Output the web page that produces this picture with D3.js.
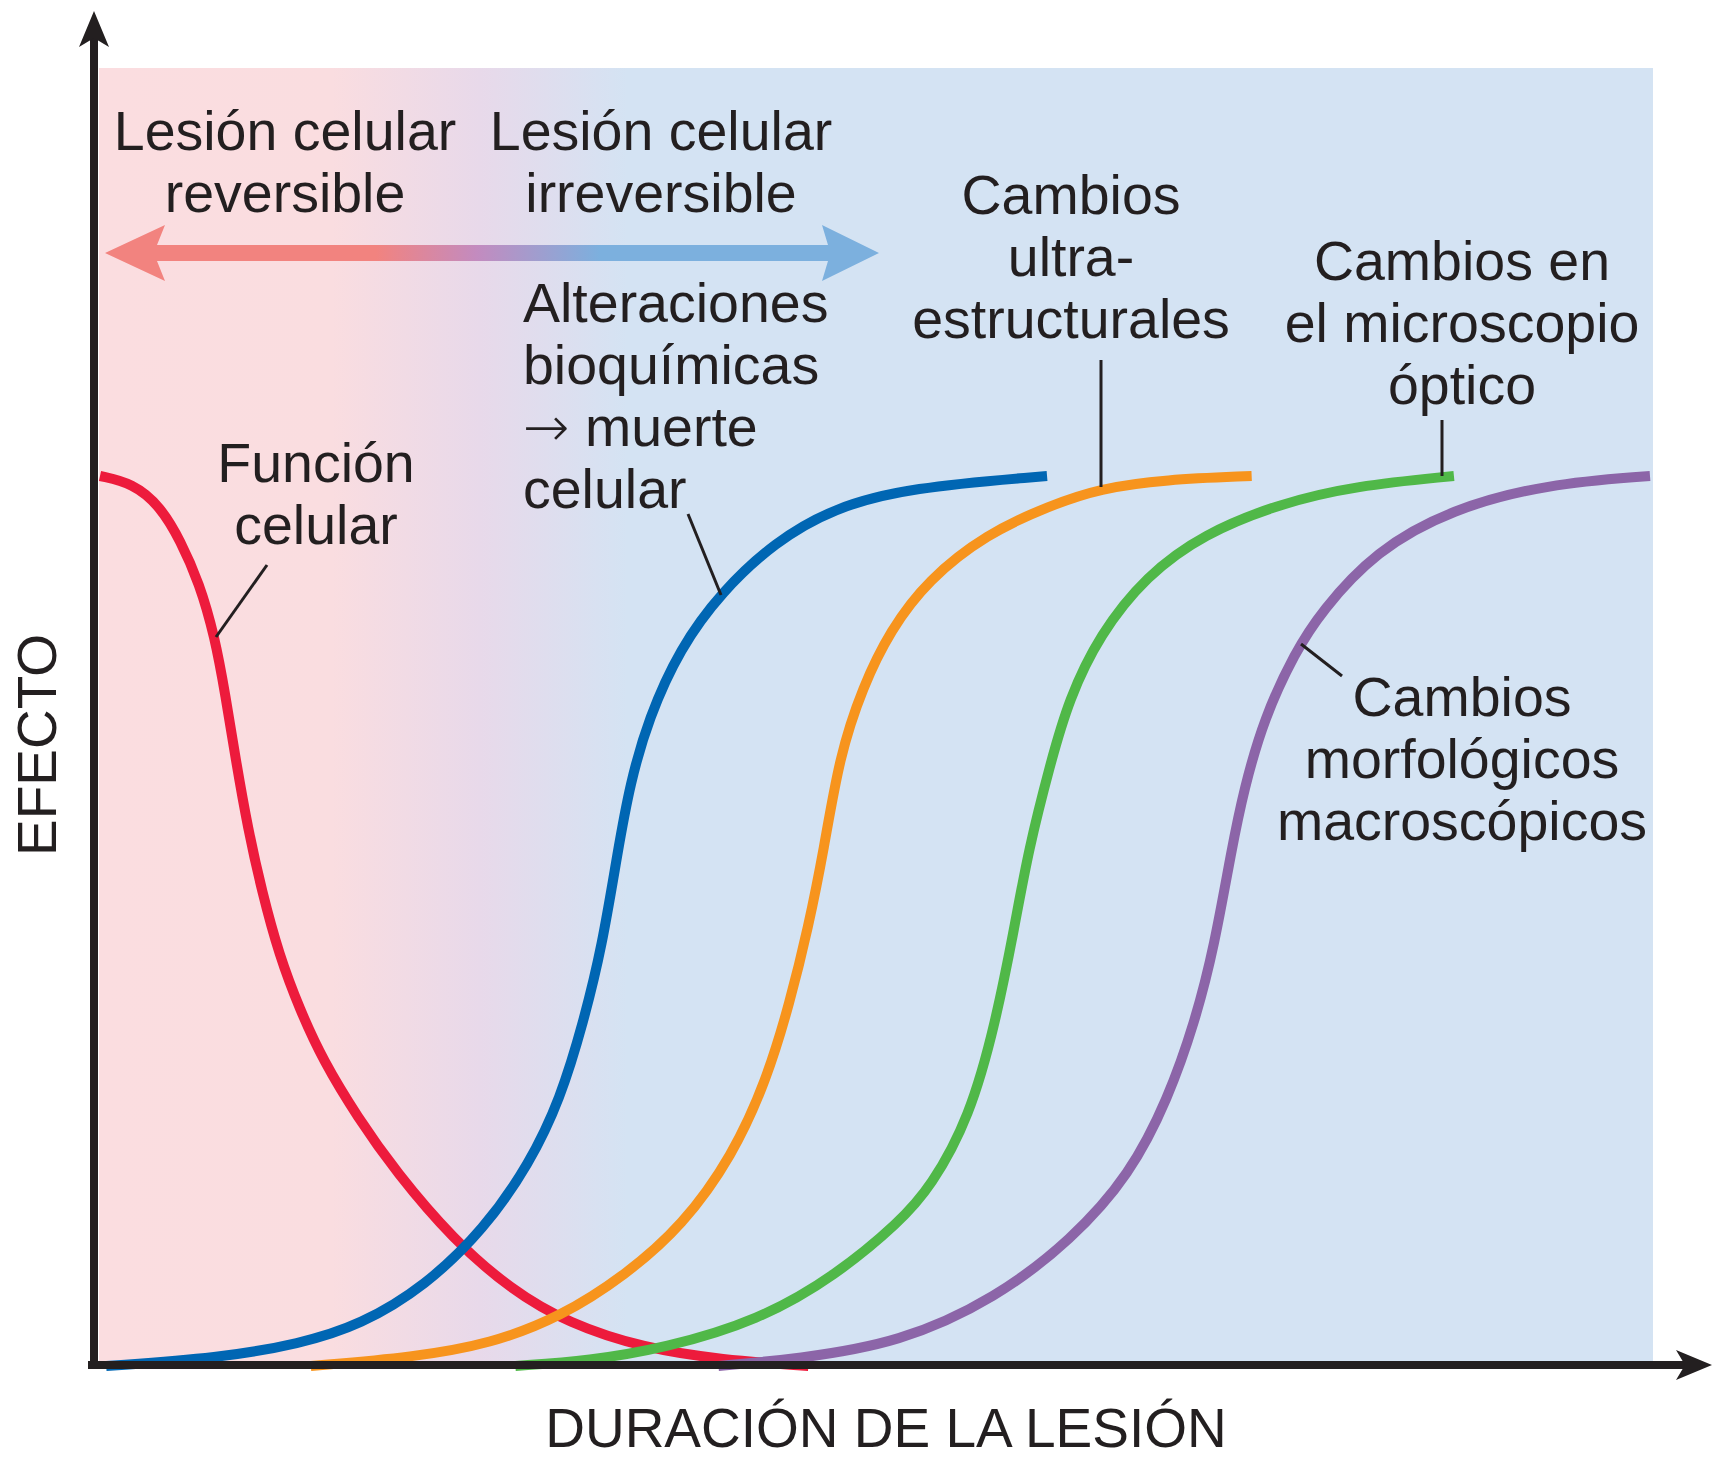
<!DOCTYPE html>
<html>
<head>
<meta charset="utf-8">
<script src="https://cdn.jsdelivr.net/npm/d3@7"></script>
<style>
  html, body { margin: 0; padding: 0; background: #ffffff; }
  svg { display: block; }
  text { font-family: "Liberation Sans", Arial, Helvetica, sans-serif; fill: #231f20; }
</style>
</head>
<body>
<svg id="chart" width="1721" height="1471"></svg>
<script>
// ---------------- DATA (time units 0..100, effect 0..100) ----------------
const seriesNames = ["Función celular", "Alteraciones bioquímicas", "Cambios ultraestructurales",
                     "Cambios en el microscopio óptico", "Cambios morfológicos macroscópicos"];
const seriesColors = ["#ed1b3c", "#0066b3", "#f7941d", "#50b848", "#8c65a8"];

const funcionCelular = [[0,100],[2.1,99.2],[3.9,96.6],[5.2,92.7],[6.4,88.0],[7.4,82.0],[8.1,75.3],
  [8.75,68.2],[9.55,60.3],[10.45,53.3],[11.55,46.2],[12.9,40.0],[14.4,34.3],[16.6,28.0],[19.1,21.8],
  [22.8,14.2],[26.5,8.6],[30.2,4.8],[35.1,2.0],[40.1,0.7],[45.7,0]];

const alteracionesBioquimicas = [[0.4,0],[7.7,0.9],[12.9,2.5],[16.8,4.6],[21.0,9.0],[24.8,15.4],
  [27.7,22.7],[29.7,30.0],[31.2,38.7],[32.4,47.2],[33.4,57.8],[34.2,65.5],[35.4,72.8],[37.4,80.6],
  [40.1,87.0],[43.55,92.6],[47.3,96.4],[52.2,98.7],[61.1,100]];

const cambiosUltraestructurales = [[13.6,0],[20.3,1.0],[25.2,2.5],[29.7,5.5],[33.9,10.2],[37.6,15.8],
  [40.8,23.6],[43.0,32.1],[44.5,40.8],[45.7,49.3],[46.7,58.0],[47.7,68.5],[49.2,76.3],[51.0,82.7],
  [53.4,88.3],[57.2,93.5],[61.3,96.7],[64.5,98.6],[68.7,99.6],[74.3,100]];

const cambiosMicroscopio = [[26.8,0],[31.6,0.6],[36.4,2.0],[42.5,5.1],[47.5,10.2],[51.6,16.2],
  [53.6,20.1],[56.1,27.9],[57.8,38.7],[59.0,49.3],[59.9,58.0],[61.3,67.6],[62.5,74.9],[64.5,82.2],
  [67.5,88.8],[71.2,93.5],[76.1,96.9],[81.0,98.9],[87.35,100]];

const cambiosMacroscopicos = [[39.9,0],[45.0,0.8],[51.6,2.6],[57.8,7.6],[62.7,14.2],[66.45,21.5],
  [68.9,30.0],[70.65,38.7],[71.9,47.2],[73.0,58.0],[73.8,64.8],[75.1,72.8],[77.1,80.2],[78.8,84.8],
  [82.3,91.6],[87.2,96.3],[93.35,99.1],[100,100]];

const allSeries = [funcionCelular, alteracionesBioquimicas, cambiosUltraestructurales,
                   cambiosMicroscopio, cambiosMacroscopicos];

// Text labels
const axisTitleX = "DURACIÓN DE LA LESIÓN";
const axisTitleY = "EFECTO";
const phaseLabels = [["Lesión celular", "reversible"], ["Lesión celular", "irreversible"]];
const curveLabels = [
  ["Función", "celular"],
  ["Alteraciones", "bioquímicas", "\u2192 muerte", "celular"],
  ["Cambios", "ultra-", "estructurales"],
  ["Cambios en", "el microscopio", "óptico"],
  ["Cambios", "morfológicos", "macroscópicos"]
];

// ---------------- LAYOUT ----------------
const svg = d3.select("#chart");
const x = d3.scaleLinear().domain([0, 100]).range([100, 1650]);
const y = d3.scaleLinear().domain([0, 100]).range([1366, 476]);

const defs = svg.append("defs");
const bgGrad = defs.append("linearGradient").attr("id", "bgGrad")
  .attr("gradientUnits", "userSpaceOnUse").attr("x1", 99).attr("x2", 1653).attr("y1", 0).attr("y2", 0);
bgGrad.append("stop").attr("offset", 0).attr("stop-color", "#fbdde0");
bgGrad.append("stop").attr("offset", 0.15).attr("stop-color", "#fadde0");
bgGrad.append("stop").attr("offset", 0.245).attr("stop-color", "#e8d9ea");
bgGrad.append("stop").attr("offset", 0.34).attr("stop-color", "#d4e3f3");
bgGrad.append("stop").attr("offset", 1).attr("stop-color", "#d4e3f3");

const arrGrad = defs.append("linearGradient").attr("id", "arrGrad")
  .attr("gradientUnits", "userSpaceOnUse").attr("x1", 105).attr("x2", 879).attr("y1", 0).attr("y2", 0);
arrGrad.append("stop").attr("offset", 0).attr("stop-color", "#f2837f");
arrGrad.append("stop").attr("offset", 0.35).attr("stop-color", "#f2837f");
arrGrad.append("stop").attr("offset", 0.48).attr("stop-color", "#c38bbf");
arrGrad.append("stop").attr("offset", 0.64).attr("stop-color", "#7cb0de");
arrGrad.append("stop").attr("offset", 1).attr("stop-color", "#7cb0de");

// background
svg.append("rect").attr("x", 99).attr("y", 68).attr("width", 1554).attr("height", 1297)
  .attr("fill", "url(#bgGrad)");

// double arrow
const dbl = [[105,253],[165,225],[157,245],[828,245],[822,225],[879,253],[822,281],[828,261],[157,261],[165,281]];
svg.append("polygon").attr("points", dbl.map(p => p.join(",")).join(" ")).attr("fill", "url(#arrGrad)");

// curves
const line = d3.line().x(d => x(d[0])).y(d => y(d[1])).curve(d3.curveBasis);
svg.append("g").selectAll("path").data(allSeries).join("path")
  .attr("d", line)
  .attr("fill", "none")
  .attr("stroke", (d, i) => seriesColors[i])
  .attr("stroke-width", 10)
  .attr("stroke-linecap", "butt");

// axes
const ax = svg.append("g");
ax.append("line").attr("x1", 94).attr("x2", 94).attr("y1", 36).attr("y2", 1369)
  .attr("stroke", "#231f20").attr("stroke-width", 8);
ax.append("polygon").attr("points", "94,11 109,47 94,38 79,47").attr("fill", "#231f20");
ax.append("line").attr("x1", 88).attr("x2", 1688).attr("y1", 1365).attr("y2", 1365)
  .attr("stroke", "#231f20").attr("stroke-width", 8);
ax.append("polygon").attr("points", "1712,1365 1676,1380 1685,1365 1676,1350").attr("fill", "#231f20");

// text helper
function block(lines, xPos, y0, anchor, size) {
  const t = svg.append("text").attr("text-anchor", anchor).attr("font-size", size);
  lines.forEach((s, i) => {
    const ts = t.append("tspan").attr("x", xPos).attr("y", y0 + i * 62);
    if (s.startsWith("\u2192")) {
      ts.append("tspan").attr("font-family", "DejaVu Sans").attr("font-weight", 200).text("\u2192");
      ts.append("tspan").text(s.slice(1));
    } else {
      ts.text(s);
    }
  });
  return t;
}
const FS = 55.5;
block(phaseLabels[0], 285, 150, "middle", FS);
block(phaseLabels[1], 661, 150, "middle", FS);
block(curveLabels[0], 316, 482, "middle", FS);
block(curveLabels[1], 523, 322, "start", FS);
block(curveLabels[2], 1071, 214, "middle", FS);
block(curveLabels[3], 1462, 280, "middle", FS);
block(curveLabels[4], 1462, 716, "middle", FS);

// leader lines
const leaders = [[267,565,216,637],[688,514,721,595],[1101,360,1101,487],[1442,420,1442,476],[1301,644,1342,676]];
svg.append("g").selectAll("line").data(leaders).join("line")
  .attr("x1", d => d[0]).attr("y1", d => d[1]).attr("x2", d => d[2]).attr("y2", d => d[3])
  .attr("stroke", "#231f20").attr("stroke-width", 3);

// axis titles
svg.append("text").attr("x", 886).attr("y", 1447).attr("text-anchor", "middle")
  .attr("font-size", 55).text(axisTitleX);
svg.append("text").attr("transform", "translate(56,745) rotate(-90)").attr("text-anchor", "middle")
  .attr("font-size", 55).text(axisTitleY);
</script>
</body>
</html>
